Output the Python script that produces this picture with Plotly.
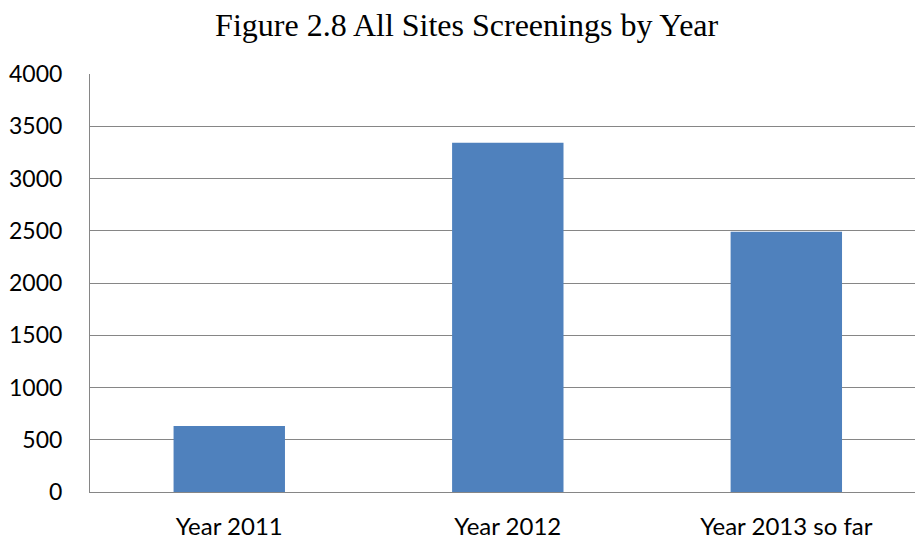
import plotly.graph_objects as go

categories = ["Year 2011", "Year 2012", "Year 2013 so far"]
screenings = [632, 3343, 2490]
y_ticks = [0, 500, 1000, 1500, 2000, 2500, 3000, 3500, 4000]

fig = go.Figure()

fig.add_trace(
    go.Bar(
        x=categories,
        y=screenings,
        marker_color="#4F81BD",
        marker_line_width=0,
        width=0.4,
    )
)

fig.update_layout(
    template="plotly_white",
    width=915,
    height=540,
    margin=dict(l=90, r=0, t=74, b=48),
    paper_bgcolor="white",
    plot_bgcolor="white",
    showlegend=False,
    title=dict(
        text="Figure 2.8 All Sites Screenings by Year",
        x=0.510,
        xanchor="center",
        y=0.955,
        yanchor="middle",
        font=dict(family="Liberation Serif", size=32, color="black"),
    ),
    font=dict(family="Lato", size=23, color="black"),
)

fig.update_yaxes(
    range=[0, 4000],
    tickvals=y_ticks,
    automargin=False,
    showgrid=True,
    gridcolor="#868686",
    gridwidth=1,
    showline=True,
    linecolor="#868686",
    linewidth=1,
    zeroline=False,
    ticks="",
    ticklabelstandoff=22,
    tickfont=dict(family="Lato", size=23, color="black"),
)

# the original chart is cropped on the right, so the last category is cut short
fig.update_xaxes(
    range=[-0.5, 2.462],
    automargin=False,
    showline=True,
    linecolor="#868686",
    linewidth=1,
    showgrid=False,
    ticks="",
    ticklabelstandoff=13,
    tickfont=dict(family="Lato", size=24, color="black"),
)

# drop the default 8px body margin so the figure fills the window
fig.write_html(
    "out.html",
    config={"displayModeBar": False},
    post_script="document.body.style.margin='0';",
)
